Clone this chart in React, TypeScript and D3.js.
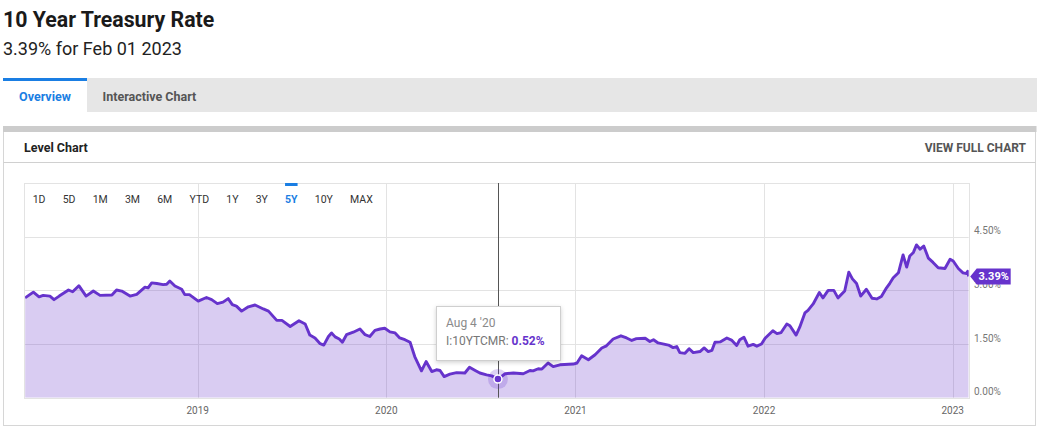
import React from 'react';
import * as d3 from 'd3';

const TITLE = '10 Year Treasury Rate';
const SUBTITLE = '3.39% for Feb 01 2023';
const TABS = ['Overview', 'Interactive Chart'];
const CARD_TITLE = 'Level Chart';
const CARD_LINK = 'VIEW FULL CHART';
const RANGES = ['1D', '5D', '1M', '3M', '6M', 'YTD', '1Y', '3Y', '5Y', '10Y', 'MAX'];
const ACTIVE_RANGE = '5Y';
const Y_TICKS = [0, 1.5, 3, 4.5];
const X_YEARS = ['2019', '2020', '2021', '2022', '2023'];
const DOMAIN_START = '2018-02-01';
const DOMAIN_END = '2023-02-01';
const SERIES_NAME = 'I:10YTCMR';
const HOVER_DATE = '2020-08-04';
const HOVER_LABEL = "Aug 4 '20";

const DATES = [
  '2018-02-01', '2018-02-17', '2018-02-28', '2018-03-08', '2018-03-21', '2018-03-29', '2018-04-08', '2018-04-26',
  '2018-05-04', '2018-05-16', '2018-05-30', '2018-06-13', '2018-06-26', '2018-07-19', '2018-07-28', '2018-08-07',
  '2018-08-23', '2018-09-05', '2018-09-21', '2018-09-27', '2018-10-04', '2018-10-14', '2018-10-26', '2018-11-02',
  '2018-11-08', '2018-11-18', '2018-12-01', '2018-12-07', '2018-12-16',
  '2019-01-02', '2019-01-18', '2019-01-28', '2019-02-08', '2019-02-19', '2019-03-01', '2019-03-09', '2019-03-17',
  '2019-03-27', '2019-04-09', '2019-04-22', '2019-05-08', '2019-05-18', '2019-06-03', '2019-06-13', '2019-06-29',
  '2019-07-16', '2019-07-28', '2019-08-06', '2019-08-16', '2019-08-26', '2019-09-02', '2019-09-11', '2019-09-17',
  '2019-09-24', '2019-10-02', '2019-10-08', '2019-10-16', '2019-10-29', '2019-11-11', '2019-11-21', '2019-11-30',
  '2019-12-10', '2019-12-20', '2019-12-29',
  '2020-01-08', '2020-01-18', '2020-01-27', '2020-02-06', '2020-02-16', '2020-02-25', '2020-03-09', '2020-03-18',
  '2020-03-29', '2020-04-07', '2020-04-14', '2020-04-22', '2020-05-03', '2020-05-16', '2020-06-01', '2020-06-10',
  '2020-06-21', '2020-06-30', '2020-07-13', '2020-07-23', '2020-08-04', '2020-08-18', '2020-09-03', '2020-09-22',
  '2020-10-05', '2020-10-11', '2020-10-21', '2020-10-28', '2020-11-09', '2020-11-19', '2020-12-02', '2020-12-28',
  '2021-01-04', '2021-01-13', '2021-01-26', '2021-02-08', '2021-02-21', '2021-03-02', '2021-03-15', '2021-03-30',
  '2021-04-10', '2021-04-20', '2021-04-29', '2021-05-16', '2021-05-25', '2021-06-01', '2021-06-10', '2021-06-30',
  '2021-07-09', '2021-07-16', '2021-07-22', '2021-08-01', '2021-08-09', '2021-08-17', '2021-08-30', '2021-09-07',
  '2021-09-15', '2021-09-22', '2021-09-28', '2021-10-08', '2021-10-21', '2021-10-30', '2021-11-09', '2021-11-15',
  '2021-11-23', '2021-12-01', '2021-12-11', '2021-12-18', '2021-12-27',
  '2022-01-03', '2022-01-18', '2022-01-26', '2022-02-03', '2022-02-14', '2022-02-20', '2022-03-04', '2022-03-11',
  '2022-03-21', '2022-03-27', '2022-04-06', '2022-04-18', '2022-04-25', '2022-05-05', '2022-05-16', '2022-05-24',
  '2022-06-06', '2022-06-14', '2022-06-21', '2022-06-29', '2022-07-07', '2022-07-18', '2022-07-29', '2022-08-07',
  '2022-08-16', '2022-08-26', '2022-09-01', '2022-09-08', '2022-09-18', '2022-09-27', '2022-10-04', '2022-10-10',
  '2022-10-17', '2022-10-23', '2022-10-30', '2022-11-06', '2022-11-15', '2022-11-24', '2022-12-04', '2022-12-17',
  '2022-12-27',
  '2023-01-02', '2023-01-12', '2023-01-21', '2023-01-28', '2023-01-30', '2023-02-01',
];

const RATES = [
  2.79, 2.95, 2.82, 2.86, 2.84, 2.74, 2.84, 3.01,
  2.96, 3.13, 2.84, 2.98, 2.86, 2.87, 3.01, 2.98,
  2.84, 2.89, 3.09, 3.07, 3.21, 3.19, 3.16, 3.17,
  3.26, 3.12, 3.03, 2.88, 2.88,
  2.70, 2.80, 2.74, 2.63, 2.67, 2.77, 2.60, 2.56,
  2.42, 2.54, 2.59, 2.48, 2.42, 2.16, 2.16, 1.99,
  2.15, 2.06, 1.75, 1.67, 1.51, 1.47, 1.71, 1.81,
  1.70, 1.64, 1.55, 1.76, 1.83, 1.92, 1.76, 1.71,
  1.88, 1.92, 1.94,
  1.84, 1.81, 1.67, 1.62, 1.55, 1.15, 0.75, 1.01,
  0.73, 0.78, 0.76, 0.59, 0.66, 0.70, 0.69, 0.85,
  0.76, 0.69, 0.64, 0.61, 0.52, 0.67, 0.69, 0.67,
  0.76, 0.75, 0.81, 0.80, 0.97, 0.87, 0.92, 0.94,
  0.97, 1.17, 1.06, 1.20, 1.39, 1.45, 1.64, 1.73,
  1.67, 1.60, 1.65, 1.66, 1.57, 1.62, 1.53, 1.47,
  1.40, 1.43, 1.26, 1.24, 1.37, 1.26, 1.29, 1.39,
  1.29, 1.32, 1.55, 1.56, 1.67, 1.61, 1.46, 1.62,
  1.69, 1.44, 1.49, 1.44, 1.50,
  1.66, 1.87, 1.79, 1.82, 2.06, 2.01, 1.75, 1.97,
  2.37, 2.44, 2.62, 2.94, 2.79, 3.00, 3.00, 2.79,
  2.98, 3.51, 3.32, 3.19, 2.84, 3.03, 2.78, 2.76,
  2.83, 3.07, 3.19, 3.35, 3.49, 3.99, 3.65, 3.96,
  4.06, 4.27, 4.15, 4.24, 3.90, 3.78, 3.63, 3.61,
  3.87,
  3.82, 3.61, 3.49, 3.47, 3.53, 3.39,
];

const PURPLE = '#6633cc';
const BLUE = '#1a7ee3';
const FONT = 'Roboto, "Noto Sans", sans-serif';

function measure(text: string, font: string): number {
  const c = document.createElement('canvas').getContext('2d');
  if (!c) return text.length * 6;
  c.font = font;
  return c.measureText(text).width;
}

export default function App() {
  const W = 1040;
  const H = 431;
  const parse = d3.utcParse('%Y-%m-%d');
  const data = DATES.map((d, i) => ({ date: parse(d) as Date, v: RATES[i] }));

  const x = d3
    .scaleUtc()
    .domain([parse(DOMAIN_START) as Date, parse(DOMAIN_END) as Date])
    .range([25.1, 968.7]);
  const y = d3.scaleLinear().domain([0, 6]).range([397.7, 183]);

  const [px0, px1] = x.range();
  const [py0, py1] = [y(6), y(0)];

  const line = d3
    .line<{ date: Date; v: number }>()
    .x((d) => x(d.date))
    .y((d) => y(d.v));
  const area = d3
    .area<{ date: Date; v: number }>()
    .x((d) => x(d.date))
    .y0(y(0))
    .y1((d) => y(d.v));

  const last = data[data.length - 1];
  const hoverIdx = Math.max(0, DATES.indexOf(HOVER_DATE));
  const hover = data[hoverIdx];
  const hx = x(hover.date);
  const hy = y(hover.v);

  // range buttons layout
  const rangeSize = 10.5;
  const rangeFont = `${rangeSize}px ${FONT}`;
  let cursor = 32.7;
  const rangeItems = RANGES.map((r) => {
    const w = measure(r, r === ACTIVE_RANGE ? `bold ${rangeFont}` : rangeFont);
    const item = { r, x: cursor, w };
    cursor += w + 17.2;
    return item;
  });

  const fmtPct = (v: number) => `${v.toFixed(2)}%`;
  const ly = y(last.v);

  return (
    <svg
      width={W}
      height={H}
      style={{ position: 'absolute', left: 0, top: 0, fontFamily: FONT }}
    >
      <defs>
        <filter id="shadow" x="-20%" y="-20%" width="140%" height="150%">
          <feDropShadow dx="0" dy="1.5" stdDeviation="2" floodColor="#000" floodOpacity="0.18" />
        </filter>
        <clipPath id="plotclip">
          <rect x={px0} y={py0 - 5} width={px1 - px0} height={py1 - py0 + 5} />
        </clipPath>
      </defs>
      <rect x={0} y={0} width={W} height={H} fill="#fff" />

      {/* Header */}
      <text x={3} y={27} fontSize={21.3} fontWeight={700} fill="#1a1a1a">
        {TITLE}
      </text>
      <text x={3} y={55} fontSize={18} fill="#222">
        {SUBTITLE}
      </text>

      {/* Tabs */}
      <rect x={3} y={78} width={1034} height={34} fill="#e6e6e6" />
      <rect x={3} y={78} width={84} height={34} fill="#fff" />
      <rect x={3} y={78} width={84} height={3} fill={BLUE} />
      <text x={45} y={101} fontSize={12.5} fontWeight={700} fill={BLUE} textAnchor="middle">
        {TABS[0]}
      </text>
      <text x={102.5} y={101} fontSize={12.5} fontWeight={700} fill="#555">
        {TABS[1]}
      </text>

      {/* Card */}
      <rect x={3.5} y={128} width={1032} height={297.5} fill="#fff" stroke="#d6d6d6" />
      <rect x={3} y={126} width={1033.5} height={6} fill="#cccccc" />
      <text x={24} y={152} fontSize={12.5} fontWeight={700} fill="#222">
        {CARD_TITLE}
      </text>
      <text x={1026} y={152} fontSize={12} fontWeight={700} fill="#555" textAnchor="end">
        {CARD_LINK}
      </text>
      <line x1={3.5} x2={1035.5} y1={162.5} y2={162.5} stroke="#d0d0d0" />

      {/* Grid */}
      <g stroke="#e3e3e3" strokeWidth={1}>
        {Y_TICKS.map((t) => (
          <line key={t} x1={px0} x2={px1} y1={Math.round(y(t)) + 0.5} y2={Math.round(y(t)) + 0.5} />
        ))}
        {X_YEARS.map((yr) => {
          const xx = Math.round(x(parse(`${yr}-01-01`) as Date)) + 0.5;
          return <line key={yr} x1={xx} x2={xx} y1={py0} y2={py1} />;
        })}
        <rect
          x={Math.round(px0) - 0.5}
          y={Math.round(py0) + 0.5}
          width={Math.round(px1 - px0) + 1}
          height={Math.round(py1 - py0)}
          fill="none"
        />
      </g>

      {/* Area + line */}
      <g clipPath="url(#plotclip)">
        <path d={area(data) || ''} fill={PURPLE} fillOpacity={0.25} />
        <path d={line(data) || ''} fill="none" stroke={PURPLE} strokeWidth={2.9} strokeLinejoin="round" />
      </g>

      {/* Axis labels */}
      {Y_TICKS.map((t) => (
        <text key={t} x={974} y={y(t) - 2.5} fontSize={10} fill="#777">
          {fmtPct(t)}
        </text>
      ))}
      {X_YEARS.map((yr) => (
        <text key={yr} x={x(parse(`${yr}-01-01`) as Date)} y={414} fontSize={10} fill="#666" textAnchor="middle">
          {yr}
        </text>
      ))}

      {/* Range buttons */}
      {rangeItems.map((it) => (
        <g key={it.r}>
          {it.r === ACTIVE_RANGE && <rect x={it.x} y={183} width={it.w} height={3} fill={BLUE} />}
          <text
            x={it.x}
            y={203.3}
            fontSize={rangeSize}
            fontWeight={it.r === ACTIVE_RANGE ? 700 : 400}
            fill={it.r === ACTIVE_RANGE ? BLUE : '#333'}
          >
            {it.r}
          </text>
        </g>
      ))}

      {/* Crosshair */}
      <line x1={Math.round(hx) + 0.5} x2={Math.round(hx) + 0.5} y1={py0} y2={py1} stroke="#555" strokeWidth={1} />
      <circle cx={hx} cy={hy} r={10} fill={PURPLE} fillOpacity={0.22} />
      <circle cx={hx} cy={hy} r={4} fill={PURPLE} stroke="#fff" strokeWidth={1.5} />

      {/* Tooltip */}
      <rect x={436.5} y={306.5} width={124} height={54} fill="#fff" stroke="#cfcfcf" filter="url(#shadow)" />
      <text x={446} y={327} fontSize={12} fill="#8a8a8a">
        {HOVER_LABEL}
      </text>
      <text x={446} y={344.5} fontSize={12} fill="#777">
        {SERIES_NAME}:{' '}
        <tspan fill={PURPLE} fontWeight={700}>
          {fmtPct(hover.v)}
        </tspan>
      </text>

      {/* Last value flag */}
      <path
        d={`M${px1 + 1.5},${ly} L${px1 + 8},${ly - 8} L${px1 + 42},${ly - 8} L${px1 + 42},${ly + 8} L${px1 + 8},${ly + 8} Z`}
        fill={PURPLE}
      />
      <text x={px1 + 25} y={ly + 4} fontSize={11} fontWeight={700} fill="#fff" textAnchor="middle">
        {fmtPct(last.v)}
      </text>
    </svg>
  );
}
